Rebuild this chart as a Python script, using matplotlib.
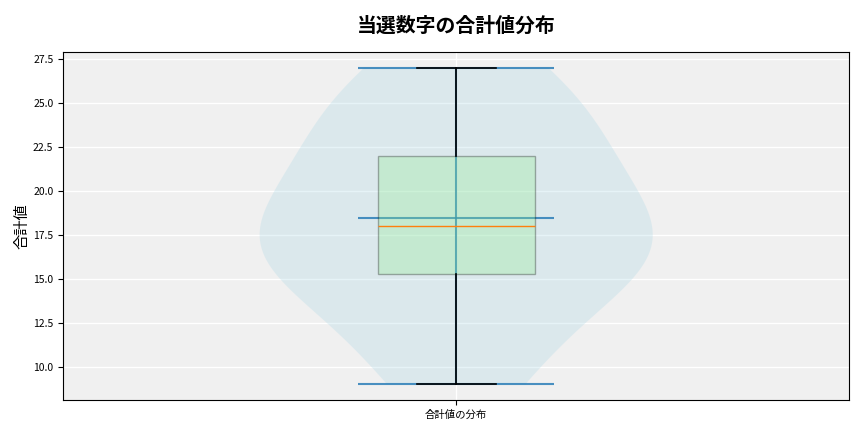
import matplotlib
matplotlib.use("Agg")
import matplotlib.pyplot as plt
import numpy as np

plt.rcParams['font.family'] = ['Noto Sans CJK JP', 'DejaVu Sans']

title = "当選数字の合計値分布"
ylabel = "合計値"
category = "合計値の分布"
sums = [9, 11, 14, 15, 16, 17, 17, 19, 19, 22, 22, 24, 26, 27]

fig = plt.figure(figsize=(8.64, 4.32), dpi=100)
ax = fig.add_axes([0.073, 0.074, 0.910, 0.806])
ax.set_facecolor('#f0f0f0')
ax.grid(True, color='white', linewidth=1.0)
ax.set_axisbelow(True)

vp = ax.violinplot([sums], positions=[1], widths=0.5, showmeans=True,
                   showextrema=True, showmedians=False)
for b in vp['bodies']:
    b.set_facecolor('#add8e6')
    b.set_edgecolor('none')
    b.set_alpha(0.3)
for key in ('cmeans', 'cmins', 'cmaxes', 'cbars'):
    vp[key].set_color('#1f77b4')
    vp[key].set_alpha(0.8)
    vp[key].set_linewidth(1.5)

bp = ax.boxplot([sums], positions=[1], widths=0.2, patch_artist=True,
                showfliers=False)
for box in bp['boxes']:
    box.set_facecolor('lightgreen')
    box.set_edgecolor('black')
    box.set_alpha(0.3)
for w in bp['whiskers'] + bp['caps']:
    w.set_color('black')
    w.set_linewidth(1.2)
for m in bp['medians']:
    m.set_color('#ff7f0e')
    m.set_linewidth(1.0)

ax.set_xticks([1])
ax.set_xticklabels([category], fontsize=7.5)
ax.set_xlim(0.5, 1.5)
ax.tick_params(axis='y', labelsize=7.5)
ax.set_ylabel(ylabel, fontsize=11, labelpad=2)
fig.text(0.528, 0.942, title, fontsize=14.3, fontweight='bold',
         ha='center', va='center')

fig.savefig('out.png', dpi=100)
